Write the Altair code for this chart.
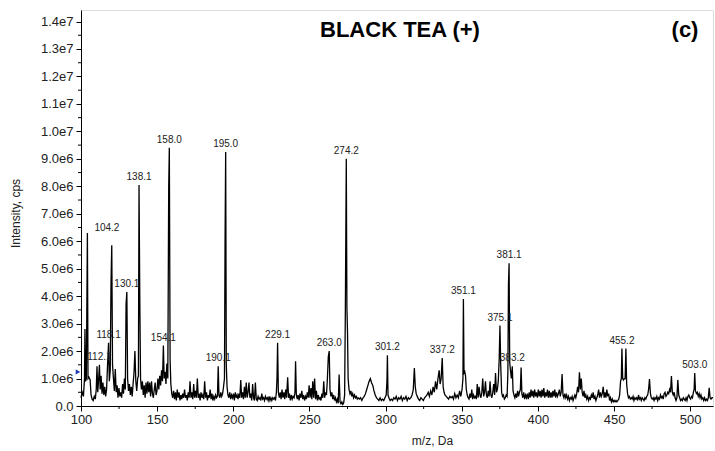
import altair as alt
import pandas as pd

# ---- spectrum, m/z (Da) and intensity (in 1e6 cps), read region by region ----
MZ_100_164 = [100.0, 100.8, 101.6, 102.3, 102.6, 103.0, 103.5, 104.2, 104.6, 105.2,
              106.0, 106.6, 107.3, 108.0, 108.7, 109.4, 110.0, 110.5, 111.0, 111.6,
              112.1, 112.6, 113.2, 113.8, 114.4, 115.0, 115.6, 116.2, 116.8, 117.4,
              118.1, 118.6, 119.2, 119.7, 120.2, 120.7, 121.3, 121.9, 122.5, 123.1,
              123.7, 124.3, 124.9, 125.5, 126.1, 126.7, 127.3, 127.9, 128.5, 129.1,
              129.6, 130.1, 130.6, 131.2, 131.8, 132.4, 133.0, 133.6, 134.2, 134.8,
              135.4, 136.0, 136.6, 137.2, 137.7, 138.1, 138.6, 139.1, 139.7, 140.3,
              140.9, 141.5, 142.1, 142.7, 143.3, 143.9, 144.5, 145.1, 145.7, 146.3,
              146.9, 147.5, 148.1, 148.7, 149.3, 149.9, 150.5, 151.1, 151.7, 152.3,
              152.9, 153.5, 154.1, 154.6, 155.2, 155.8, 156.4, 157.0, 157.6, 158.0,
              158.5, 159.0, 159.6, 160.2, 160.8, 161.4, 162.0, 162.6, 163.2, 163.8]
INT_100_164 = [0.3, 0.5, 0.35, 1.0, 2.8, 0.9, 1.0, 6.3, 1.0, 1.05,
               0.95, 0.4, 0.25, 0.2, 0.35, 0.25, 0.6, 1.45, 0.5, 1.0,
               1.5, 0.6, 1.1, 0.45, 0.85, 0.4, 0.7, 0.35, 0.6, 1.45,
               2.3, 0.9, 1.3, 4.45, 5.85, 1.5, 1.0, 0.55, 1.35, 0.5,
               0.75, 0.3, 0.65, 0.35, 0.5, 0.3, 0.8, 0.45, 1.0, 0.6,
               3.7, 4.15, 1.0, 0.55, 0.8, 0.4, 0.7, 0.35, 0.8, 1.2,
               2.0, 0.9, 0.55, 1.0, 1.1, 8.05, 3.9, 1.0, 0.6, 0.9,
               0.4, 0.75, 0.3, 0.85, 0.45, 0.9, 0.5, 0.85, 0.35, 0.9,
               0.45, 0.3, 0.6, 0.85, 0.4, 0.55, 1.0, 0.6, 1.1, 0.75,
               1.3, 0.9, 2.2, 1.0, 1.25, 0.8, 1.55, 1.0, 8.0, 9.4,
               1.7, 0.8, 0.45, 0.3, 0.55, 0.25, 0.5, 0.2, 0.6, 0.3]

MZ_164_235 = [164.4, 165.0, 165.6, 166.2, 166.8, 167.4, 168.0, 168.6, 169.2, 169.8,
              170.4, 171.0, 171.6, 172.2, 172.8, 173.4, 174.0, 174.6, 175.2, 175.8,
              176.4, 177.0, 177.6, 178.2, 178.8, 179.4, 180.0, 180.6, 181.2, 181.8,
              182.4, 183.0, 183.6, 184.2, 184.8, 185.4, 186.0, 186.6, 187.2, 187.8,
              188.4, 189.0, 189.6, 190.1, 190.6, 191.2, 191.8, 192.4, 193.0, 193.6,
              194.2, 194.6, 195.0, 195.4, 195.9, 196.5, 197.1, 197.7, 198.3, 198.9,
              199.5, 200.1, 200.7, 201.3, 201.9, 202.5, 203.1, 203.7, 204.3, 204.9,
              205.5, 206.1, 206.7, 207.3, 207.9, 208.5, 209.1, 209.7, 210.3, 210.9,
              211.5, 212.1, 212.7, 213.3, 213.9, 214.5, 215.1, 215.7, 216.3, 216.9,
              217.5, 218.1, 218.7, 219.3, 219.9, 220.5, 221.1, 221.7, 222.3, 222.9,
              223.5, 224.1, 224.7, 225.3, 225.9, 226.5, 227.1, 227.7, 228.3, 228.7,
              229.1, 229.6, 230.2, 230.8, 231.4, 232.0, 232.6, 233.2, 233.8, 234.4]
INT_164_235 = [0.5, 0.2, 0.4, 0.25, 0.45, 0.3, 0.6, 0.3, 0.4, 0.2,
               0.5, 0.3, 0.9, 0.3, 0.5, 0.25, 0.8, 0.3, 0.55, 0.3,
               1.0, 0.3, 0.45, 0.2, 0.5, 0.3, 0.4, 0.25, 0.9, 0.3,
               0.5, 0.2, 0.4, 0.3, 0.6, 0.25, 0.45, 0.2, 0.35, 0.25,
               0.4, 0.3, 0.35, 1.45, 0.4, 0.3, 0.5, 0.35, 0.45, 0.7,
               1.0, 6.05, 9.25, 1.5, 0.7, 0.4, 0.3, 0.5, 0.25, 0.4,
               0.3, 0.45, 0.2, 0.5, 0.3, 0.4, 0.25, 0.45, 0.3, 0.95,
               0.3, 0.5, 0.25, 0.7, 0.3, 0.85, 0.3, 0.5, 0.85, 0.3,
               0.45, 0.2, 0.8, 0.3, 0.2, 0.85, 0.25, 0.2, 0.35, 0.25,
               0.3, 0.2, 0.45, 0.25, 0.3, 0.2, 0.35, 0.25, 0.3, 0.2,
               0.35, 0.2, 0.3, 0.2, 0.3, 0.25, 0.3, 0.2, 0.5, 1.0,
               2.3, 0.5, 0.3, 0.5, 0.25, 0.6, 0.3, 0.5, 0.25, 0.6]

MZ_235_276 = [235.0, 235.7, 236.3, 236.9, 237.5, 238.1, 238.7, 239.3, 239.9, 240.5,
              240.9, 241.4, 242.0, 242.6, 243.2, 243.8, 244.4, 245.0, 245.6, 246.2,
              246.8, 247.4, 248.0, 248.6, 249.2, 249.8, 250.4, 251.0, 251.6, 252.2,
              252.8, 253.4, 254.0, 254.6, 255.2, 255.8, 256.4, 257.0, 257.6, 258.2,
              258.8, 259.4, 260.0, 260.6, 261.2, 261.8, 262.4, 263.0, 263.5, 264.1,
              264.7, 265.3, 265.9, 266.5, 267.1, 267.7, 268.3, 268.9, 269.5, 270.1,
              270.7, 271.3, 271.9, 272.5, 273.1, 273.6, 274.2, 274.6, 275.0, 275.4]
INT_235_276 = [0.3, 1.05, 0.3, 0.45, 0.2, 0.4, 0.25, 0.35, 0.3, 0.5,
               1.63, 0.4, 0.25, 0.4, 0.2, 0.45, 0.3, 0.55, 0.25, 0.4,
               0.2, 0.35, 0.25, 0.5, 0.3, 0.75, 0.3, 0.65, 0.25, 0.9,
               0.3, 1.0, 0.25, 0.55, 0.2, 0.4, 0.25, 0.3, 0.2, 0.45,
               0.3, 0.9, 0.3, 0.5, 0.4, 1.0, 1.8, 2.0, 0.6, 0.35,
               0.5, 0.25, 0.4, 0.2, 0.3, 0.15, 0.25, 0.1, 1.15, 0.15,
               0.08, 0.15, 0.06, 0.12, 0.4, 3.55, 9.0, 3.6, 2.7, 1.0]

MZ_276_356 = [276.0, 276.6, 277.2, 277.8, 278.4, 279.0, 279.6, 280.2, 280.8, 281.4,
              282.0, 282.8, 283.6, 284.4, 285.2, 286.0, 286.8, 287.6, 288.4, 289.2,
              290.0, 290.8, 291.6, 292.4, 293.2, 294.0, 294.8, 295.6, 296.4, 297.2,
              298.0, 298.8, 299.6, 300.4, 300.9, 301.2, 301.6, 302.2, 303.0, 303.8,
              304.6, 305.4, 306.2, 307.0, 307.8, 308.6, 309.4, 310.2, 311.0, 311.8,
              312.6, 313.4, 314.2, 315.0, 315.8, 316.6, 317.4, 318.2, 318.9, 319.5,
              320.1, 320.8, 321.6, 322.4, 323.2, 324.0, 324.8, 325.6, 326.4, 327.2,
              328.0, 328.8, 329.6, 330.4, 331.2, 332.0, 332.8, 333.6, 334.4, 335.2,
              335.8, 336.5, 337.2, 337.8, 338.4, 339.0, 339.8, 340.6, 341.4, 342.2,
              343.0, 343.8, 344.6, 345.4, 346.2, 347.0, 347.8, 348.6, 349.4, 350.2,
              350.8, 351.1, 351.5, 352.0, 352.5, 353.0, 353.6, 354.2, 354.8, 355.4]
INT_276_356 = [0.6, 0.45, 0.55, 0.35, 0.45, 0.3, 0.4, 0.3, 0.35, 0.25,
               0.3, 0.25, 0.3, 0.2, 0.3, 0.35, 0.45, 0.6, 0.75, 0.9,
               1.0, 0.85, 0.75, 0.55, 0.4, 0.3, 0.25, 0.2, 0.3, 0.2,
               0.25, 0.2, 0.3, 0.4, 0.9, 1.85, 0.4, 0.3, 0.2, 0.25,
               0.2, 0.3, 0.25, 0.35, 0.2, 0.3, 0.25, 0.35, 0.2, 0.3,
               0.25, 0.35, 0.2, 0.3, 0.25, 0.3, 0.4, 0.6, 1.38, 0.7,
               0.45, 0.35, 0.25, 0.2, 0.3, 0.25, 0.2, 0.3, 0.35, 0.4,
               0.5, 0.35, 0.55, 0.4, 0.7, 0.5, 0.9, 0.6, 1.0, 1.3,
               0.8, 1.0, 1.75, 0.7, 0.5, 0.4, 0.35, 0.3, 0.25, 0.35,
               0.3, 0.35, 0.25, 0.45, 0.3, 0.4, 0.3, 0.55, 0.35, 0.6,
               1.0, 3.9, 1.2, 1.25, 1.1, 0.6, 0.4, 0.3, 0.25, 0.45]

MZ_356_402 = [356.0, 356.6, 357.2, 357.8, 358.4, 359.0, 359.6, 360.2, 360.8, 361.4,
              362.0, 362.6, 363.2, 363.8, 364.4, 365.0, 365.6, 366.2, 366.8, 367.4,
              368.0, 368.6, 369.2, 369.8, 370.4, 371.0, 371.6, 372.2, 372.8, 373.4,
              374.0, 374.6, 375.1, 375.6, 376.2, 376.8, 377.4, 378.0, 378.6, 379.2,
              379.8, 380.3, 380.7, 381.1, 381.5, 382.0, 382.6, 383.2, 383.7, 384.3,
              384.9, 385.5, 386.1, 386.7, 387.3, 387.9, 388.5, 389.0, 389.5, 390.1,
              390.7, 391.3, 391.9, 392.5, 393.1, 393.7, 394.3, 394.9, 395.5, 396.1,
              396.7, 397.3, 397.9, 398.5, 399.1, 399.7, 400.3, 400.9, 401.5, 402.1]
INT_356_402 = [0.3, 0.6, 0.25, 0.4, 0.3, 0.35, 0.25, 0.8, 0.3, 0.7,
               0.4, 0.3, 0.5, 1.0, 0.35, 0.5, 0.9, 0.4, 0.3, 0.55,
               0.35, 0.9, 0.4, 0.3, 0.5, 0.8, 0.4, 1.2, 0.5, 0.6,
               0.9, 1.7, 2.93, 1.5, 0.5, 0.35, 0.4, 0.25, 0.3, 0.4,
               0.35, 1.2, 4.45, 5.2, 1.6, 1.3, 1.0, 1.45, 0.55, 0.4,
               0.3, 0.45, 0.3, 0.55, 0.35, 0.5, 0.6, 1.4, 0.45, 0.3,
               0.5, 0.25, 0.4, 0.3, 0.45, 0.25, 0.5, 0.3, 0.6, 0.35,
               0.55, 0.3, 0.6, 0.35, 0.5, 0.3, 0.6, 0.35, 0.55, 0.3]

MZ_402_451 = [402.7, 403.3, 403.9, 404.5, 405.1, 405.7, 406.3, 406.9, 407.5, 408.1,
              408.7, 409.3, 409.9, 410.5, 411.1, 411.7, 412.3, 412.9, 413.5, 414.1,
              414.7, 415.3, 415.9, 416.5, 417.1, 417.7, 418.3, 418.9, 419.5, 420.1,
              420.7, 421.3, 421.9, 422.5, 423.1, 423.7, 424.3, 424.9, 425.5, 426.1,
              426.7, 427.3, 427.9, 428.5, 429.1, 429.7, 430.3, 430.9, 431.5, 432.1,
              432.7, 433.3, 433.9, 434.5, 435.1, 435.7, 436.3, 436.9, 437.5, 438.1,
              438.7, 439.3, 439.9, 440.5, 441.1, 441.7, 442.3, 442.9, 443.5, 444.1,
              444.7, 445.3, 445.9, 446.5, 447.1, 447.7, 448.3, 448.9, 449.5, 450.1]
INT_402_451 = [0.6, 0.35, 0.65, 0.3, 0.5, 0.35, 0.6, 0.3, 0.55, 0.3,
               0.5, 0.3, 0.55, 0.35, 0.6, 0.3, 0.5, 0.35, 0.45, 0.6,
               0.35, 0.5, 1.16, 0.4, 0.3, 0.45, 0.3, 0.4, 0.25, 0.35,
               0.2, 0.3, 0.25, 0.35, 0.2, 0.3, 0.4, 0.3, 0.45, 0.7,
               0.5, 1.23, 0.6, 1.0, 0.5, 0.35, 0.55, 0.3, 0.4, 0.25,
               0.35, 0.2, 0.3, 0.25, 0.4, 0.3, 0.5, 0.25, 0.35, 0.2,
               0.3, 0.4, 0.6, 0.3, 0.5, 0.35, 0.45, 0.7, 0.3, 0.5,
               0.3, 0.6, 0.35, 0.45, 0.2, 0.3, 0.15, 0.25, 0.15, 0.2]

MZ_451_515 = [450.7, 451.3, 451.9, 452.5, 453.1, 453.7, 454.3, 454.8, 455.2, 455.7,
              456.2, 456.8, 457.3, 457.8, 458.3, 458.9, 459.5, 460.1, 460.7, 461.3,
              461.9, 462.5, 463.1, 463.7, 464.3, 464.9, 465.5, 466.1, 466.7, 467.3,
              467.9, 468.5, 469.1, 469.7, 470.3, 470.9, 471.5, 472.1, 472.7, 473.3,
              473.9, 474.5, 475.1, 475.7, 476.3, 476.9, 477.5, 478.1, 478.7, 479.3,
              479.9, 480.5, 481.1, 481.7, 482.3, 482.9, 483.5, 484.1, 484.7, 485.3,
              485.9, 486.5, 487.1, 487.7, 488.3, 488.9, 489.5, 490.1, 490.7, 491.3,
              491.9, 492.5, 493.1, 493.7, 494.3, 494.9, 495.5, 496.1, 496.7, 497.3,
              497.9, 498.5, 499.1, 499.7, 500.3, 500.9, 501.5, 502.1, 502.6, 503.0,
              503.5, 504.1, 504.7, 505.3, 505.9, 506.5, 507.1, 507.7, 508.3, 508.9,
              509.5, 510.1, 510.7, 511.3, 511.9, 512.5, 513.1, 513.7, 514.3, 515.0]
INT_451_515 = [0.15, 0.2, 0.15, 0.2, 0.25, 0.4, 0.9, 1.0, 2.09, 1.0,
               0.95, 1.0, 1.0, 2.09, 0.8, 0.45, 0.3, 0.35, 0.25, 0.3,
               0.25, 0.35, 0.2, 0.3, 0.25, 0.3, 0.2, 0.4, 0.25, 0.3,
               0.2, 0.3, 0.25, 0.2, 0.3, 0.25, 0.35, 0.4, 0.6, 0.98,
               0.45, 0.3, 0.25, 0.3, 0.2, 0.3, 0.25, 0.35, 0.2, 0.3,
               0.25, 0.4, 0.3, 0.35, 0.25, 0.45, 0.5, 0.35, 0.4, 0.5,
               0.45, 0.6, 0.5, 1.09, 0.5, 0.4, 0.5, 0.3, 0.2, 0.3,
               0.95, 0.4, 0.3, 0.2, 0.25, 0.2, 0.3, 0.25, 0.2, 0.3,
               0.2, 0.35, 0.4, 0.3, 0.25, 0.35, 0.3, 0.5, 0.6, 1.2,
               0.55, 0.45, 0.5, 0.35, 0.45, 0.3, 0.4, 0.25, 0.3, 0.2,
               0.3, 0.2, 0.25, 0.2, 0.3, 0.66, 0.3, 0.25, 0.3, 0.3]

# ---- annotated peaks ----
LABEL_MZ = [104.2, 112.1, 118.1, 130.1, 138.1, 154.1, 158.0, 190.1, 195.0, 229.1,
            263.0, 274.2, 301.2, 337.2, 351.1, 375.1, 381.1, 383.2, 455.2, 503.0]
LABEL_INT = [6.3, 1.5, 2.3, 4.15, 8.05, 2.2, 9.4, 1.45, 9.25, 2.3,
             2.0, 9.0, 1.85, 1.75, 3.9, 2.93, 5.2, 1.45, 2.09, 1.2]
LABEL_TEXT = ["104.2", "112.1", "118.1", "130.1", "138.1", "154.1", "158.0", "190.1", "195.0", "229.1",
              "263.0", "274.2", "301.2", "337.2", "351.1", "375.1", "381.1", "383.2", "455.2", "503.0"]

Y_MAJOR = [i * 1e6 for i in range(15)]
Y_MINOR = [(i + 0.5) * 1e6 for i in range(14)]
X_MAJOR = [100, 150, 200, 250, 300, 350, 400, 450, 500]
X_MINOR = [125, 175, 225, 275, 325, 375, 425, 475]
THRESHOLD = [1.24e6]

TITLE = "BLACK TEA (+)"
PANEL = "(c)"

W, H = 632, 396
FONT = "Liberation Sans"

mz = MZ_100_164 + MZ_164_235 + MZ_235_276 + MZ_276_356 + MZ_356_402 + MZ_402_451 + MZ_451_515
it = INT_100_164 + INT_164_235 + INT_235_276 + INT_276_356 + INT_356_402 + INT_402_451 + INT_451_515
spec = pd.DataFrame({"mz": mz, "I": [v * 1e6 for v in it]})
labels = pd.DataFrame({"mz": LABEL_MZ, "I": [v * 1e6 for v in LABEL_INT], "t": LABEL_TEXT})

xs = alt.Scale(domain=[100, 515], nice=False, zero=False)
ys = alt.Scale(domain=[0, 1.442e7], nice=False)

ylabel = ("datum.value == 0 ? '0.0' : (datum.value < 9.5e6 ? format(datum.value/1e6, '.1f') + 'e6'"
          " : format(datum.value/1e7, '.1f') + 'e7')")

AX_X = alt.Axis(
    values=X_MAJOR, format="d", title="m/z, Da", grid=False, tickSize=5, labelPadding=2,
    labelOverlap=False, domainColor="black", tickColor="black", labelFont=FONT,
    labelFontSize=13, labelColor="#222",
    titleFont=FONT, titleFontSize=12, titleFontWeight="normal", titleColor="#222",
    titleX=351, titleY=34, titleBaseline="middle", labelFlush=False)
AX_Y = alt.Axis(
    values=Y_MAJOR, labelExpr=ylabel, title="Intensity, cps", grid=False, tickSize=5,
    labelOverlap=False, labelPadding=3, domainColor="black", tickColor="black",
    labelFont=FONT, labelFontSize=13,
    labelColor="#222", titleFont=FONT, titleFontSize=12, titleFontWeight="normal",
    titleColor="#222", titleX=-66, titleY=203, titleBaseline="middle", titleAlign="center")

def X(f):
    return alt.X(f, scale=xs, axis=AX_X)

def Y(f):
    return alt.Y(f, scale=ys, axis=AX_Y)

line = alt.Chart(spec).mark_line(color="black", strokeWidth=1.3, interpolate="linear").encode(
    x=X("mz:Q"), y=Y("I:Q"))

lab_main = alt.Chart(labels[labels.t != "104.2"]).mark_text(
    font=FONT, fontSize=10, color="#222", baseline="bottom", dy=-3).encode(
    x=X("mz:Q"), y=Y("I:Q"), text="t:N")
lab_104 = alt.Chart(labels[labels.t == "104.2"]).mark_text(
    font=FONT, fontSize=10, color="#222", baseline="bottom", align="left", dx=7, dy=0).encode(
    x=X("mz:Q"), y=Y("I:Q"), text="t:N")

ymin = alt.Chart(pd.DataFrame({"I": Y_MINOR})).mark_rule(color="black", strokeWidth=1).encode(
    y=Y("I:Q"), x=alt.value(-3), x2=alt.value(0))
xmin = alt.Chart(pd.DataFrame({"mz": X_MINOR})).mark_rule(color="black", strokeWidth=1).encode(
    x=X("mz:Q"), y=alt.value(H), y2=alt.value(H + 3))

thr = alt.Chart(pd.DataFrame({"I": THRESHOLD})).mark_point(
    shape="triangle-right", filled=True, color="#1f3fb0", size=28, opacity=1).encode(
    y=Y("I:Q"), x=alt.value(-3))

title = alt.Chart(pd.DataFrame({"t": [TITLE]})).mark_text(
    font=FONT, fontSize=22, fontWeight="bold", color="black", baseline="alphabetic",
    align="center").encode(text="t:N", x=alt.value(319), y=alt.value(27))
panel = alt.Chart(pd.DataFrame({"t": [PANEL]})).mark_text(
    font=FONT, fontSize=22, fontWeight="bold", color="black", baseline="alphabetic",
    align="center").encode(text="t:N", x=alt.value(604), y=alt.value(27))

chart = alt.layer(line, lab_main, lab_104, ymin, xmin, thr, title, panel).properties(
    width=W, height=H,
    autosize=alt.AutoSizeParams(type="none"),
    padding={"left": 81, "top": 10, "right": 2, "bottom": 45},
).configure_view(stroke=None).configure(background="white")

chart.save("out.html", embed_options={"renderer": "svg", "actions": False})
